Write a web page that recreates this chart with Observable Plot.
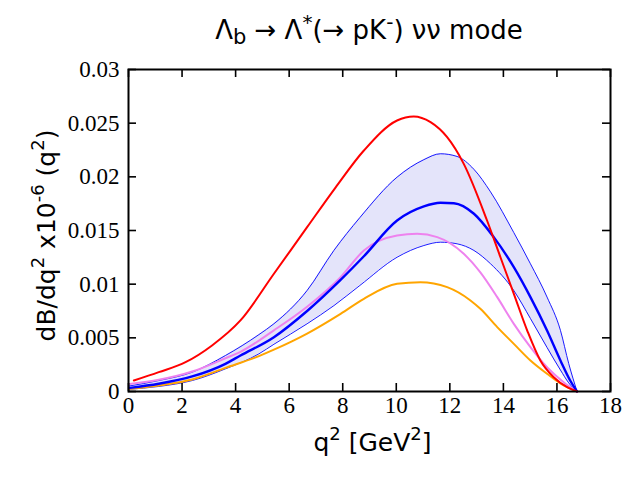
<!DOCTYPE html>
<html>
<head>
<meta charset="utf-8">
<script src="https://cdn.jsdelivr.net/npm/d3@7"></script>
<script src="https://cdn.jsdelivr.net/npm/@observablehq/plot@0.6"></script>
<style>
  html, body { margin: 0; padding: 0; background: #fff; }
  #title { width: 640px; height: 50px; box-sizing: border-box; padding-left: 128px; padding-right: 30px; padding-top: 16px;
           text-align: center; font-family: "DejaVu Sans", sans-serif; font-size: 26px; line-height: 28px; color: #000; white-space: nowrap; }
  #title sub { font-size: 21px; vertical-align: -5px; line-height: 0; }
  #title sup { font-size: 20px; vertical-align: 10px; line-height: 0; }
</style>
</head>
<body>
<div id="title">Λ<sub>b</sub> → Λ<sup>*</sup>(→ pK<sup>-</sup>) νν mode</div>
<div id="chart"></div>
<script>
// Tick values and labels
const xTicks = [0, 2, 4, 6, 8, 10, 12, 14, 16, 18];
const xTickLabels = ["0", "2", "4", "6", "8", "10", "12", "14", "16", "18"];
const yTicks = [0, 0.005, 0.01, 0.015, 0.02, 0.025, 0.03];
const yTickLabels = ["0", "0.005", "0.01", "0.015", "0.02", "0.025", "0.03"];

// Axis titles: [text, isSuperscript]
const xLabelParts = [["q", 0], ["2", 1], [" [GeV", 0], ["2", 1], ["]", 0]];
const yLabelParts = [["dB/dq", 0], ["2", 1], [" x10", 0], ["-6", 1], [" (q", 0], ["2", 1], [")", 0]];

// Uncertainty band (upper / lower bounds of the blue prediction)
const bandQ     = [0, 1.13, 2.38, 3.62, 4.87, 5.43, 6.67, 7.67, 8.64, 10.03, 11.03, 11.65, 12.27, 12.9, 13.52, 14.39, 15.01, 15.63, 16.13, 16.44, 16.75];
const bandUpper = [0.0005, 0.00102, 0.0018, 0.00335, 0.0053, 0.00631, 0.00941, 0.01314, 0.0162, 0.01997, 0.0216, 0.02215, 0.0219, 0.0207, 0.0186, 0.0148, 0.0119, 0.0088, 0.0057, 0.0026, 0];
const bandLower = [0.0002, 0.00047, 0.00102, 0.00211, 0.00351, 0.0044, 0.00631, 0.0080, 0.00988, 0.01251, 0.0136, 0.01391, 0.01376, 0.01314, 0.0119, 0.0094, 0.0068, 0.0041, 0.0020, 0.0008, 0];

// Central blue curve
const blueQ = [0.05, 1.13, 2.38, 3.62, 4.18, 5.43, 6.67, 7.92, 8.79, 10.03, 11.03, 11.65, 12.15, 12.9, 13.64, 14.39, 15.01, 15.63, 16.13, 16.5, 16.75];
const blueV = [0.00034, 0.00072, 0.0014, 0.00258, 0.00335, 0.00506, 0.0075, 0.0104, 0.0126, 0.01593, 0.01724, 0.01758, 0.01754, 0.01656, 0.01438, 0.01158, 0.00879, 0.00568, 0.00289, 0.001, 0];

// Red curve
const redQ = [0.2, 1.13, 2.13, 3.12, 4.18, 5.43, 6.67, 7.73, 8.79, 10.03, 10.65, 11.28, 11.9, 12.52, 13.39, 13.89, 14.39, 14.89, 15.38, 15.88, 16.38, 16.75];
const redV = [0.00102, 0.0018, 0.00273, 0.00429, 0.00662, 0.01097, 0.01531, 0.0190, 0.02245, 0.02525, 0.02562, 0.02509, 0.02369, 0.02121, 0.01593, 0.01251, 0.0091, 0.00568, 0.00289, 0.00133, 0.0004, 0];

// Violet curve
const violetQ = [0.05, 1.13, 2.38, 3.62, 4.18, 5.43, 6.67, 7.92, 8.79, 10.03, 10.78, 11.53, 12.52, 13.14, 13.77, 14.39, 15.01, 15.63, 16.25, 16.75];
const violetV = [0.0007, 0.00109, 0.00186, 0.0031, 0.0037, 0.0057, 0.0079, 0.01065, 0.01314, 0.01453, 0.01469, 0.01438, 0.01283, 0.0111, 0.00879, 0.0063, 0.00413, 0.00226, 0.00087, 0];

// Orange curve
const orangeQ = [0.05, 1.13, 2.38, 3.62, 4.87, 5.43, 6.67, 7.92, 8.79, 10.03, 10.9, 11.9, 12.77, 13.14, 13.77, 14.39, 15.01, 15.63, 16.25, 16.75];
const orangeV = [0.00025, 0.00056, 0.00112, 0.0022, 0.0033, 0.0039, 0.0054, 0.00724, 0.00864, 0.01003, 0.01018, 0.00972, 0.00848, 0.0077, 0.006, 0.00444, 0.00289, 0.00165, 0.00056, 0];

const toRows = (qs, vs) => qs.map((q, i) => ({q, v: vs[i]}));
const band = bandQ.map((q, i) => ({q, lo: bandLower[i], hi: bandUpper[i]}));
const curve = "monotone-x";

const W = 640, H = 430, mT = 19, mB = 89, mL = 128, mR = 30;
const innerW = W - mL - mR, innerH = H - mT - mB, tickLen = 8;

const tickFont = "'Liberation Serif', 'Times New Roman', serif";
const labelFont = "'DejaVu Sans', sans-serif";
const labelSize = 25;
const plain = parts => parts.map(p => p[0]).join("");

const plot = Plot.plot({
  width: W,
  height: H,
  marginTop: mT,
  marginBottom: mB,
  marginLeft: mL,
  marginRight: mR,
  style: {background: "#fff", color: "#000", fontFamily: tickFont, overflow: "visible"},
  x: {domain: [0, 18], axis: null},
  y: {domain: [0, 0.03], axis: null},
  marks: [
    Plot.areaY(band, {x: "q", y1: "lo", y2: "hi", fill: "#e4e4fa", curve}),
    Plot.line(band, {x: "q", y: "hi", stroke: "#0000ff", strokeWidth: 0.9, curve}),
    Plot.line(band, {x: "q", y: "lo", stroke: "#0000ff", strokeWidth: 0.9, curve}),
    Plot.line(toRows(orangeQ, orangeV), {x: "q", y: "v", stroke: "orange", strokeWidth: 2, curve}),
    Plot.line(toRows(violetQ, violetV), {x: "q", y: "v", stroke: "violet", strokeWidth: 2, curve}),
    Plot.line(toRows(blueQ, blueV), {x: "q", y: "v", stroke: "#0000ff", strokeWidth: 2.4, curve}),
    Plot.line(toRows(redQ, redV), {x: "q", y: "v", stroke: "#ff0000", strokeWidth: 2, curve}),
    // inward ticks on all four sides
    Plot.tickX(xTicks, {x: d => d, insetTop: innerH - tickLen, stroke: "#000", strokeWidth: 1.6}),
    Plot.tickX(xTicks, {x: d => d, insetBottom: innerH - tickLen, stroke: "#000", strokeWidth: 1.6}),
    Plot.tickY(yTicks, {y: d => d, insetRight: innerW - tickLen, stroke: "#000", strokeWidth: 1.6}),
    Plot.tickY(yTicks, {y: d => d, insetLeft: innerW - tickLen, stroke: "#000", strokeWidth: 1.6}),
    Plot.frame({stroke: "#000", strokeWidth: 2}),
    // tick labels
    Plot.text(xTicks, {x: d => d, frameAnchor: "bottom", lineAnchor: "top", dy: 5, text: (d, i) => xTickLabels[i],
      fontSize: 23, fontFamily: tickFont, fill: "#000"}),
    Plot.text(yTicks, {y: d => d, frameAnchor: "left", textAnchor: "end", dx: -9, text: (d, i) => yTickLabels[i],
      fontSize: 23, fontFamily: tickFont, fill: "#000"}),
    // axis titles
    Plot.text([plain(xLabelParts)], {frameAnchor: "bottom", textAnchor: "middle", dy: 59, dx: 3,
      fontSize: labelSize, fontFamily: labelFont, fill: "#000"}),
    Plot.text([plain(yLabelParts)], {frameAnchor: "left", textAnchor: "middle", dx: -82, dy: 5, rotate: -90,
      fontSize: labelSize, fontFamily: labelFont, fill: "#000"})
  ]
});

// Turn the superscript parts of the axis titles into raised, smaller tspans
function superscript(parts) {
  const target = plain(parts);
  d3.select(plot).selectAll("text").filter(function() { return this.textContent === target; }).each(function() {
    const t = d3.select(this);
    t.text(null);
    let raised = false;
    parts.forEach(([s, sup]) => {
      const span = t.append("tspan").text(s);
      if (sup && !raised) { span.attr("dy", -0.42 * labelSize).attr("font-size", 0.72 * labelSize); raised = true; }
      else if (sup) { span.attr("font-size", 0.72 * labelSize); }
      else if (!sup && raised) { span.attr("dy", 0.42 * labelSize); raised = false; }
    });
  });
}
superscript(xLabelParts);
superscript(yLabelParts);

document.getElementById("chart").appendChild(plot);
</script>
</body>
</html>
